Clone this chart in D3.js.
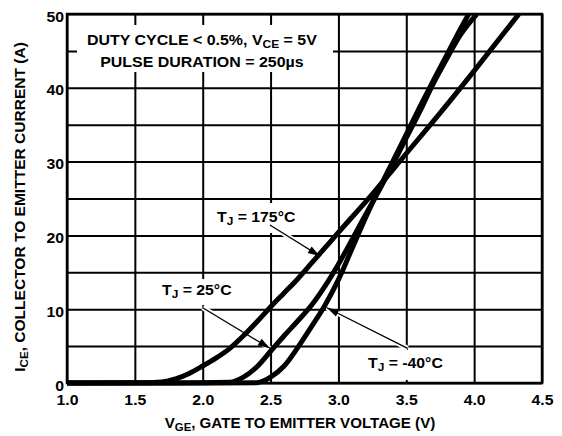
<!DOCTYPE html>
<html>
<head>
<meta charset="utf-8">
<script src="https://cdn.jsdelivr.net/npm/d3@7"></script>
<style>
  body { margin: 0; background: #fff; }
  text { font-family: "Liberation Sans", Arial, sans-serif; font-weight: bold; fill: #000; }
</style>
</head>
<body>
<svg id="chart" width="562" height="436"></svg>
<script>
// tick values
let vTicks = [1.0, 1.5, 2.0, 2.5, 3.0, 3.5, 4.0, 4.5]
let iTicks = [0, 10, 20, 30, 40, 50]
let iGrid = [0, 5, 10, 15, 20, 25, 30, 35, 40, 45, 50]

// curves, [V_GE, I_CE]
let tjMinus40 = [[1.0, 0], [2.0, 0], [2.4, 0.05], [2.45, 0.3], [2.5, 0.8], [2.6, 2.3], [2.7, 4.8], [2.8, 7.6],
  [2.9, 10.5], [3.0, 14.0], [3.1, 18.2], [3.2, 22.4], [3.3, 26.3], [3.4, 30.0], [3.5, 33.7],
  [3.6, 37.4], [3.7, 41.0], [3.8, 44.5], [3.9, 48.0], [3.96, 50]]
let tj25 = [[1.0, 0], [1.8, 0], [2.2, 0.1], [2.3, 0.8], [2.4, 2.2], [2.5, 4.3], [2.6, 6.4], [2.7, 8.4],
  [2.8, 10.5], [2.9, 13.1], [3.0, 16.1], [3.1, 19.4], [3.2, 22.8], [3.3, 26.1], [3.4, 29.6],
  [3.5, 33.2], [3.6, 36.8], [3.7, 40.6], [3.8, 44.0], [3.9, 47.2], [4.02, 50]]
let tj175 = [[1.0, 0], [1.5, 0.02], [1.7, 0.15], [1.8, 0.55], [1.9, 1.3], [2.0, 2.3], [2.1, 3.4], [2.2, 4.7],
  [2.3, 6.4], [2.4, 8.3], [2.5, 10.3], [2.6, 12.2], [2.7, 14.1], [2.8, 16.2], [2.9, 18.3],
  [3.0, 20.4], [3.25, 25.6], [3.5, 31.1], [3.75, 36.6], [4.0, 42.3], [4.33, 50]]

let svg = d3.select("#chart")
let plotL = 67, plotR = 542, plotT = 14, plotB = 383

let x = d3.scaleLinear().domain([1.0, 4.5]).range([plotL, plotR])
let y = d3.scaleLinear().domain([0, 50]).range([plotB, plotT])

// the lettering in the picture is wider than Arial, so stretch it
function stretch(sel, s) {
  sel.each(function () {
    let t = d3.select(this)
    let tx = +t.attr("x") || 0, ty = +t.attr("y") || 0
    let rest = t.attr("transform") || ""
    t.attr("x", 0).attr("y", 0)
    t.attr("transform", rest ? `${rest} scale(${s},1)` : `translate(${tx},${ty}) scale(${s},1)`)
  })
}

// grid
svg.append("g")
  .attr("transform", `translate(0, ${plotB})`)
  .call(d3.axisBottom(x).tickValues(vTicks).tickSize(plotT - plotB).tickFormat(""))
  .call(g => g.select(".domain").remove())
  .selectAll("line").attr("stroke", "#000").attr("stroke-width", 2)
svg.append("g")
  .attr("transform", `translate(${plotL}, 0)`)
  .call(d3.axisLeft(y).tickValues(iGrid).tickSize(plotL - plotR).tickFormat(""))
  .call(g => g.select(".domain").remove())
  .selectAll("line").attr("stroke", "#000").attr("stroke-width", 2)

// white patches behind the labels
let patches = [
  [77, 25, 256, 47],
  [210, 203, 95, 30],
  [155, 279, 82, 26],
  [360, 350, 92, 30]
]
svg.selectAll("rect.patch").data(patches).enter().append("rect")
  .attr("x", d => d[0]).attr("y", d => d[1]).attr("width", d => d[2]).attr("height", d => d[3])
  .attr("fill", "#fff")

// arrows: [from V, from I, to V, to I]
let arrows = [
  [2.495, 21.4, 2.863, 17.2],
  [2.0, 10.2, 2.495, 4.7],
  [3.51, 4.7, 2.915, 10.2]
]
svg.selectAll("line.halo").data(arrows).enter().append("line")
  .attr("x1", d => x(d[0])).attr("y1", d => y(d[1]))
  .attr("x2", d => x(d[2])).attr("y2", d => y(d[3]))
  .attr("stroke", "#fff").attr("stroke-width", 5)

// border
svg.append("rect")
  .attr("x", plotL).attr("y", plotT).attr("width", plotR - plotL).attr("height", plotB - plotT)
  .attr("fill", "none").attr("stroke", "#000").attr("stroke-width", 2.5)

svg.append("clipPath").attr("id", "plot").append("rect")
  .attr("x", plotL - 5).attr("y", plotT).attr("width", plotR - plotL + 5).attr("height", plotB - plotT + 5)

let line = d3.line().x(d => x(d[0])).y(d => y(d[1])).curve(d3.curveMonotoneX)
svg.append("g").attr("clip-path", "url(#plot)")
  .selectAll("path").data([tjMinus40, tj25, tj175]).enter().append("path")
  .attr("d", line)
  .attr("fill", "none").attr("stroke", "#000").attr("stroke-width", 5)

// arrow lines and heads
svg.selectAll("line.arrow").data(arrows).enter().append("line")
  .attr("x1", d => x(d[0])).attr("y1", d => y(d[1]))
  .attr("x2", d => x(d[2])).attr("y2", d => y(d[3]))
  .attr("stroke", "#000").attr("stroke-width", 1.3)
svg.selectAll("path.head").data(arrows).enter().append("path")
  .attr("d", d => {
    let x1 = x(d[0]), y1 = y(d[1]), x2 = x(d[2]), y2 = y(d[3])
    let a = Math.atan2(y2 - y1, x2 - x1), len = 12, w = 3.8
    let bx = x2 - len * Math.cos(a), by = y2 - len * Math.sin(a)
    let px = -Math.sin(a) * w, py = Math.cos(a) * w
    return `M${x2},${y2}L${bx + px},${by + py}L${bx - px},${by - py}Z`
  })
  .attr("fill", "#000")

// tick labels
svg.append("g")
  .attr("transform", `translate(0, ${plotB})`)
  .call(d3.axisBottom(x).tickValues(vTicks).tickSize(0).tickPadding(12).tickFormat(d3.format(".1f")))
  .call(g => g.select(".domain").remove())
  .selectAll("text").attr("font-size", 14).attr("font-family", null)
  .call(stretch, 1.13)
svg.append("g")
  .attr("transform", `translate(${plotL}, 0)`)
  .call(d3.axisLeft(y).tickValues(iTicks).tickSize(0).tickPadding(3))
  .call(g => g.select(".domain").remove())
  .selectAll("text").attr("font-size", 14).attr("font-family", null).attr("dy", "0.5em")
  .call(stretch, 1.13)

// parts: plain strings, or [subscript] in a one-item array
function label(tx, ty, parts, anchor) {
  let t = svg.append("text").attr("x", tx).attr("y", ty).attr("font-size", 14)
    .attr("text-anchor", anchor || "start")
  let shifted = false
  parts.forEach(p => {
    if (Array.isArray(p)) {
      t.append("tspan").attr("font-size", 10.5).attr("dy", 3).text(p[0])
      shifted = true
    } else {
      t.append("tspan").attr("dy", shifted ? -3 : null).text(p)
      shifted = false
    }
  })
  return t
}

label(x(1.994), 45, ["DUTY CYCLE < 0.5%, V", ["CE"], " = 5V"], "middle").call(stretch, 1.14)
label(x(1.994), 67, ["PULSE DURATION = 250µs"], "middle").call(stretch, 1.14)
label(217, 222, ["T", ["J"], " = 175°C"]).call(stretch, 1.13)
label(162, 295, ["T", ["J"], " = 25°C"]).call(stretch, 1.13)
label(368, 368, ["T", ["J"], " = -40°C"]).call(stretch, 1.13)

label(300, 428, ["V", ["GE"], ", GATE TO EMITTER VOLTAGE (V)"], "middle").call(stretch, 1.08)
label(0, 0, ["I", ["CE"], ", COLLECTOR TO EMITTER CURRENT (A)"], "middle")
  .attr("transform", "translate(25, 207) rotate(-90)")
  .call(stretch, 1.11)
</script>
</body>
</html>
